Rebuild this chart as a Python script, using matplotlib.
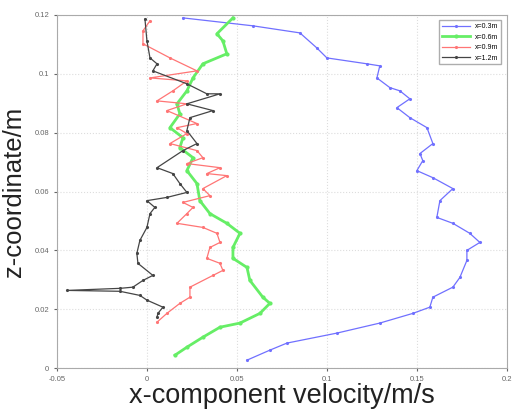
import matplotlib
matplotlib.use("Agg")
import matplotlib.pyplot as plt

labels = ["x=0.3m", "x=0.6m", "x=0.9m", "x=1.2m"]

u03 = [0.020, 0.0589, 0.085, 0.0944, 0.100, 0.1222, 0.1294, 0.1278, 0.135, 0.1406, 0.1461, 0.1389,
       0.1461, 0.1556, 0.1589, 0.1517, 0.1533, 0.150, 0.1589, 0.170, 0.1628, 0.1611, 0.170, 0.1794,
       0.185, 0.1778, 0.1778, 0.1739, 0.170, 0.1589, 0.1572, 0.1478, 0.1294, 0.1056, 0.0778, 0.0683, 0.0556]
z03 = [0.119, 0.1163, 0.1139, 0.1088, 0.1054, 0.1034, 0.1027, 0.0986, 0.0953, 0.0942, 0.0915, 0.0885,
       0.0851, 0.0817, 0.0763, 0.0729, 0.0705, 0.0671, 0.0647, 0.0610, 0.0569, 0.0512, 0.0492, 0.0458,
       0.0427, 0.0400, 0.0366, 0.0308, 0.0275, 0.0241, 0.0207, 0.0186, 0.0153, 0.0119, 0.0085, 0.0061, 0.0027]

u06 = [0.0478, 0.0389, 0.0422, 0.0444, 0.0311, 0.0256, 0.0222, 0.0167, 0.0183, 0.0128, 0.020, 0.0183,
       0.0256, 0.0222, 0.0278, 0.0294, 0.035, 0.0444, 0.0517, 0.0478, 0.0478, 0.0556, 0.0572, 0.0644,
       0.0683, 0.0628, 0.0517, 0.0406, 0.0311, 0.0222, 0.0156]
z06 = [0.119, 0.1136, 0.1112, 0.1068, 0.1034, 0.0986, 0.0942, 0.0898, 0.0864, 0.0817, 0.0783, 0.0749,
       0.0715, 0.0671, 0.0627, 0.0569, 0.0525, 0.0492, 0.0458, 0.0410, 0.0373, 0.0342, 0.0298, 0.0241,
       0.0220, 0.0186, 0.0153, 0.0139, 0.0105, 0.0071, 0.0044]

u09 = [0.0017, -0.0022, -0.0022, 0.0128, 0.0278, 0.0017, 0.0222, 0.0144, 0.0056, 0.0222, 0.0111, 0.0278,
       0.0167, 0.0222, 0.0128, 0.0278, 0.0311, 0.0222, 0.0406, 0.0333, 0.0444, 0.0311, 0.035, 0.020,
       0.0256, 0.0222, 0.0167, 0.0311, 0.0389, 0.0406, 0.035, 0.0333, 0.0406, 0.0422, 0.0367, 0.0239,
       0.0239, 0.0183, 0.0111, 0.0056]
z09 = [0.118, 0.1146, 0.1102, 0.1054, 0.1010, 0.0986, 0.0976, 0.0942, 0.0908, 0.0898, 0.0875, 0.0831,
       0.0817, 0.0797, 0.0763, 0.0739, 0.0715, 0.0695, 0.0681, 0.0661, 0.0654, 0.0610, 0.0586, 0.0563,
       0.0546, 0.0525, 0.0492, 0.0478, 0.0458, 0.0427, 0.0410, 0.0373, 0.0356, 0.0332, 0.0315, 0.0275,
       0.0241, 0.0220, 0.0186, 0.0156]

u12 = [-0.0011, 0.0, 0.0017, 0.0056, 0.0033, 0.0222, 0.0333, 0.0406, 0.0222, 0.0367, 0.0239, 0.0222,
       0.0278, 0.020, 0.0056, 0.0144, 0.0183, 0.0222, 0.0111, 0.0, 0.0044, 0.0017, 0.0, -0.0039,
       -0.0056, -0.005, 0.0033, -0.0022, -0.0078, -0.015, -0.0444, -0.015, -0.0039, 0.0, 0.0089,
       0.0061, 0.0056]
z12 = [0.1186, 0.1112, 0.1054, 0.1034, 0.1010, 0.0966, 0.0932, 0.0932, 0.0898, 0.0875, 0.0851, 0.0807,
       0.0763, 0.0739, 0.0681, 0.0661, 0.0627, 0.0597, 0.0580, 0.0569, 0.0546, 0.0525, 0.0478, 0.0434,
       0.0390, 0.0356, 0.0315, 0.0298, 0.0275, 0.0271, 0.0264, 0.0261, 0.0247, 0.0231, 0.0207,
       0.0186, 0.0173]

xticks = [-0.05, 0, 0.05, 0.1, 0.15, 0.2]
xtick_labels = ["-0.05", "0", "0.05", "0.1", "0.15", "0.2"]
yticks = [0, 0.02, 0.04, 0.06, 0.08, 0.1, 0.12]
ytick_labels = ["0", "0.02", "0.04", "0.06", "0.08", "0.1", "0.12"]

plt.rcParams['font.family'] = ['Liberation Sans', 'DejaVu Sans']
fig = plt.figure(figsize=(5.13, 4.15), dpi=100)
ax = fig.add_axes([0.111, 0.113, 0.877, 0.851])

ax.plot(u03, z03, color="#7070ff", lw=0.9, marker=".", ms=2.5, label=labels[0])
ax.plot(u06, z06, color="#66ee66", lw=2.0, marker=".", ms=4, label=labels[1])
ax.plot(u09, z09, color="#ff7575", lw=0.9, marker=".", ms=2.5, label=labels[2])
ax.plot(u12, z12, color="#454545", lw=0.9, marker=".", ms=2.5, label=labels[3])

ax.set_xlim(-0.05, 0.2)
ax.set_ylim(0, 0.12)
ax.set_xticks(xticks)
ax.set_xticklabels(xtick_labels)
ax.set_yticks(yticks)
ax.set_yticklabels(ytick_labels)
ax.tick_params(labelsize=5.5, colors="#666666", length=2)
ax.grid(True, color="#dddddd", linestyle=":", linewidth=0.8)
for s in ax.spines.values():
    s.set_color("#aaaaaa")
    s.set_linewidth(0.8)

ax.set_xlabel("x-component velocity/m/s", fontsize=19.5, color="#222222", labelpad=0)
ax.set_ylabel("z-coordinate/m", fontsize=18.5, color="#222222", labelpad=6)

leg = ax.legend(loc="upper right", fontsize=5, frameon=True, fancybox=False,
                edgecolor="#999999", handlelength=4, borderaxespad=0.8)

fig.savefig("out.png", dpi=100)
